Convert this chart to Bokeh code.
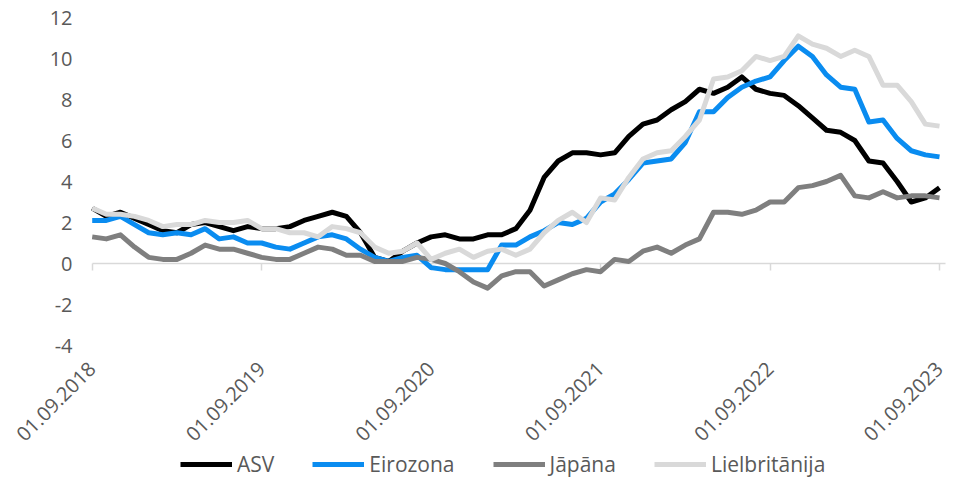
import math
from bokeh.plotting import figure
from bokeh.models import Range1d, FixedTicker, LinearAxis, Legend, LegendItem
from bokeh.embed import file_html
from bokeh.resources import INLINE

# ---- data (monthly, Aug 2018 .. Aug 2023, y/y %) ----
MONTHS = list(range(61))
ASV = [2.7, 2.3, 2.5, 2.2, 1.9,
       1.6, 1.5, 1.9, 2.0, 1.8, 1.6, 1.8, 1.7, 1.7, 1.8, 2.1, 2.3,
       2.5, 2.3, 1.5, 0.3, 0.1, 0.6, 1.0, 1.3, 1.4, 1.2, 1.2, 1.4,
       1.4, 1.7, 2.6, 4.2, 5.0, 5.4, 5.4, 5.3, 5.4, 6.2, 6.8, 7.0,
       7.5, 7.9, 8.5, 8.3, 8.6, 9.1, 8.5, 8.3, 8.2, 7.7, 7.1, 6.5,
       6.4, 6.0, 5.0, 4.9, 4.0, 3.0, 3.2, 3.7]
EIROZONA = [2.1, 2.1, 2.3, 1.9, 1.5,
            1.4, 1.5, 1.4, 1.7, 1.2, 1.3, 1.0, 1.0, 0.8, 0.7, 1.0, 1.3,
            1.4, 1.2, 0.7, 0.3, 0.1, 0.3, 0.4, -0.2, -0.3, -0.3, -0.3, -0.3,
            0.9, 0.9, 1.3, 1.6, 2.0, 1.9, 2.2, 3.0, 3.4, 4.1, 4.9, 5.0,
            5.1, 5.9, 7.4, 7.4, 8.1, 8.6, 8.9, 9.1, 9.9, 10.6, 10.1, 9.2,
            8.6, 8.5, 6.9, 7.0, 6.1, 5.5, 5.3, 5.2]
JAPANA = [1.3, 1.2, 1.4, 0.8, 0.3,
          0.2, 0.2, 0.5, 0.9, 0.7, 0.7, 0.5, 0.3, 0.2, 0.2, 0.5, 0.8,
          0.7, 0.4, 0.4, 0.1, 0.1, 0.1, 0.3, 0.2, 0.0, -0.4, -0.9, -1.2,
          -0.6, -0.4, -0.4, -1.1, -0.8, -0.5, -0.3, -0.4, 0.2, 0.1, 0.6, 0.8,
          0.5, 0.9, 1.2, 2.5, 2.5, 2.4, 2.6, 3.0, 3.0, 3.7, 3.8, 4.0,
          4.3, 3.3, 3.2, 3.5, 3.2, 3.3, 3.3, 3.2]
LIELBRITANIJA = [2.7, 2.4, 2.4, 2.3, 2.1,
                 1.8, 1.9, 1.9, 2.1, 2.0, 2.0, 2.1, 1.7, 1.7, 1.5, 1.5, 1.3,
                 1.8, 1.7, 1.5, 0.8, 0.5, 0.6, 1.0, 0.2, 0.5, 0.7, 0.3, 0.6,
                 0.7, 0.4, 0.7, 1.5, 2.1, 2.5, 2.0, 3.2, 3.1, 4.2, 5.1, 5.4,
                 5.5, 6.2, 7.0, 9.0, 9.1, 9.4, 10.1, 9.9, 10.1, 11.1, 10.7, 10.5,
                 10.1, 10.4, 10.1, 8.7, 8.7, 7.9, 6.8, 6.7]

SERIES_NAMES = ["ASV", "Eirozona", "Jāpāna", "Lielbritānija"]
X_TICKS = [0, 12, 24, 36, 48, 60]
X_TICK_LABELS = ["01.09.2018", "01.09.2019", "01.09.2020",
                 "01.09.2021", "01.09.2022", "01.09.2023"]
Y_TICKS = [-4, -2, 0, 2, 4, 6, 8, 10, 12]
Y_TICK_LABELS = ["-4", "-2", "0", "2", "4", "6", "8", "10", "12"]
Y_MIN, Y_MAX = -4, 12

COLORS = ["#000000", "#0A8CF0", "#7F7F7F", "#D9D9D9"]
FONT = "Open Sans"
TXT = "#595959"

# ---- layout (screen px); the frame covers the whole figure, axes are pinned ----
W, H = 971, 478
X0_PX, X60_PX = 91.7, 939.0       # screen x of first / last x tick
Y_TOP_PX, Y_BOT_PX = 17.0, 345.0  # screen y of Y_MAX / Y_MIN
PLOT_LEFT_PX = 90.0
pxm = (X60_PX - X0_PX) / (X_TICKS[-1] - X_TICKS[0])
pxu = (Y_BOT_PX - Y_TOP_PX) / (Y_MAX - Y_MIN)
x_start = X_TICKS[0] - X0_PX / pxm
x_end = X_TICKS[-1] + (W - X60_PX) / pxm
y_end = Y_MAX + Y_TOP_PX / pxu
y_start = Y_MIN - (H - Y_BOT_PX) / pxu
y_axis_at = X_TICKS[0] - (X0_PX - PLOT_LEFT_PX) / pxm

p = figure(width=W, height=H, output_backend="svg", toolbar_location=None,
           x_range=Range1d(x_start, x_end), y_range=Range1d(y_start, y_end),
           min_border=0, min_border_left=0, min_border_right=0,
           min_border_top=0, min_border_bottom=0)
p.outline_line_color = None
p.grid.visible = False

# y axis (labels only), pinned at the plot's left edge
ya = p.yaxis[0]
ya.fixed_location = y_axis_at
ya.ticker = FixedTicker(ticks=Y_TICKS)
ya.major_label_overrides = {t: s for t, s in zip(Y_TICKS, Y_TICK_LABELS)}
ya.axis_line_color = None
ya.major_tick_line_color = None
ya.minor_tick_line_color = None
ya.major_tick_out = 0
ya.major_tick_in = 0
ya.major_label_standoff = 18
ya.major_label_text_font = FONT
ya.major_label_text_font_size = "20px"
ya.major_label_text_color = TXT

# x axis (rotated labels only), pinned under the lowest y tick
xa = p.xaxis[0]
xa.fixed_location = Y_MIN
xa.ticker = FixedTicker(ticks=X_TICKS)
xa.major_label_overrides = {t: s for t, s in zip(X_TICKS, X_TICK_LABELS)}
xa.major_label_orientation = math.pi / 4
xa.axis_line_color = None
xa.major_tick_line_color = None
xa.minor_tick_line_color = None
xa.major_tick_out = 0
xa.major_tick_in = 0
xa.major_label_standoff = 20
xa.major_label_text_font = FONT
xa.major_label_text_font_size = "20px"
xa.major_label_text_color = TXT

# zero line with downward ticks
zax = LinearAxis(fixed_location=0, ticker=FixedTicker(ticks=X_TICKS),
                 bounds=(X_TICKS[0], X_TICKS[-1] + 0.4),
                 axis_line_color="#D9D9D9", axis_line_width=1.5,
                 major_tick_line_color="#D9D9D9", major_tick_line_width=1.5,
                 major_tick_in=0, major_tick_out=7,
                 minor_tick_line_color=None,
                 major_label_text_alpha=0, major_label_text_font_size="1px")
zax.level = "underlay"
p.add_layout(zax, "below")

renderers = []
for vals, col in zip([ASV, EIROZONA, JAPANA, LIELBRITANIJA], COLORS):
    r = p.line(MONTHS, vals, line_color=col, line_width=5, line_join="round")
    renderers.append(r)

legend = Legend(items=[LegendItem(label=n, renderers=[r]) for n, r in zip(SERIES_NAMES, renderers)],
                orientation="horizontal", location=(180, 0),
                glyph_width=52, glyph_height=20, label_standoff=5, spacing=38,
                padding=0, margin=0, border_line_color=None, background_fill_alpha=0,
                label_text_font=FONT, label_text_font_size="21px", label_text_color=TXT)
p.add_layout(legend, "center")

open("out.html", "w").write(file_html(p, INLINE))
